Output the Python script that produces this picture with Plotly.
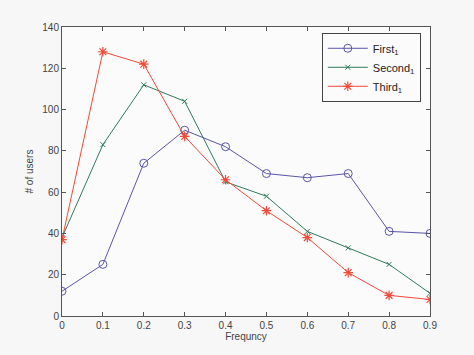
import plotly.graph_objects as go

freq = [0, 0.1, 0.2, 0.3, 0.4, 0.5, 0.6, 0.7, 0.8, 0.9]
first = [12, 25, 74, 90, 82, 69, 67, 69, 41, 40]
second = [38, 83, 112, 104, 65, 58, 41, 33, 25, 11]
third = [37, 128, 122, 87, 66, 51, 38, 21, 10, 8]
names = ["First<sub>1</sub>", "Second<sub>1</sub>", "Third<sub>1</sub>"]
x_ticks = [0, 0.1, 0.2, 0.3, 0.4, 0.5, 0.6, 0.7, 0.8, 0.9]
x_labels = ["0", "0.1", "0.2", "0.3", "0.4", "0.5", "0.6", "0.7", "0.8", "0.9"]
y_ticks = [0, 20, 40, 60, 80, 100, 120, 140]

fig = go.Figure()
fig.add_trace(go.Scatter(x=freq, y=first, name=names[0], mode="lines+markers",
                         line=dict(color="#5a55a8", width=1),
                         marker=dict(symbol="circle-open", size=8, color="#5a55a8", line=dict(width=1))))
fig.add_trace(go.Scatter(x=freq, y=second, name=names[1], mode="lines+markers",
                         line=dict(color="#2f7a5a", width=1),
                         marker=dict(symbol="x-thin-open", size=5, color="#2f7a5a", line=dict(width=1))))
fig.add_trace(go.Scatter(x=freq, y=third, name=names[2], mode="lines+markers",
                         line=dict(color="#f04a38", width=1),
                         marker=dict(symbol="asterisk-open", size=8, color="#f04a38", line=dict(width=1.2))))

axis_common = dict(showline=True, linecolor="#555", linewidth=1, mirror="ticks",
                   ticks="inside", ticklen=4, tickcolor="#555", showgrid=False, zeroline=False,
                   tickfont=dict(size=10, color="#444"))
fig.update_xaxes(range=[0, 0.9], tickvals=x_ticks, ticktext=x_labels,
                 title=dict(text="Frequncy", font=dict(size=10, color="#444"), standoff=2),
                 **axis_common)
fig.update_yaxes(range=[0, 140], tickvals=y_ticks,
                 title=dict(text="# of users", font=dict(size=10, color="#444"), standoff=6),
                 **axis_common)

fig.update_layout(
    width=474, height=355,
    margin=dict(l=62, r=44, t=27, b=39),
    paper_bgcolor="#f7f7f7", plot_bgcolor="#fbfbfb",
    font=dict(family="Liberation Sans, Arial, sans-serif", size=10, color="#444"),
    showlegend=True,
    legend=dict(x=0.975, y=0.98, xanchor="right", yanchor="top",
                bgcolor="#fbfbfb", bordercolor="#444", borderwidth=1,
                font=dict(size=11, color="#222"), itemwidth=40, tracegroupgap=0),
)

fig.write_html("out.html", config={"displayModeBar": False},
               post_script="document.body.style.margin='0';document.body.style.background='#f7f7f7';")
